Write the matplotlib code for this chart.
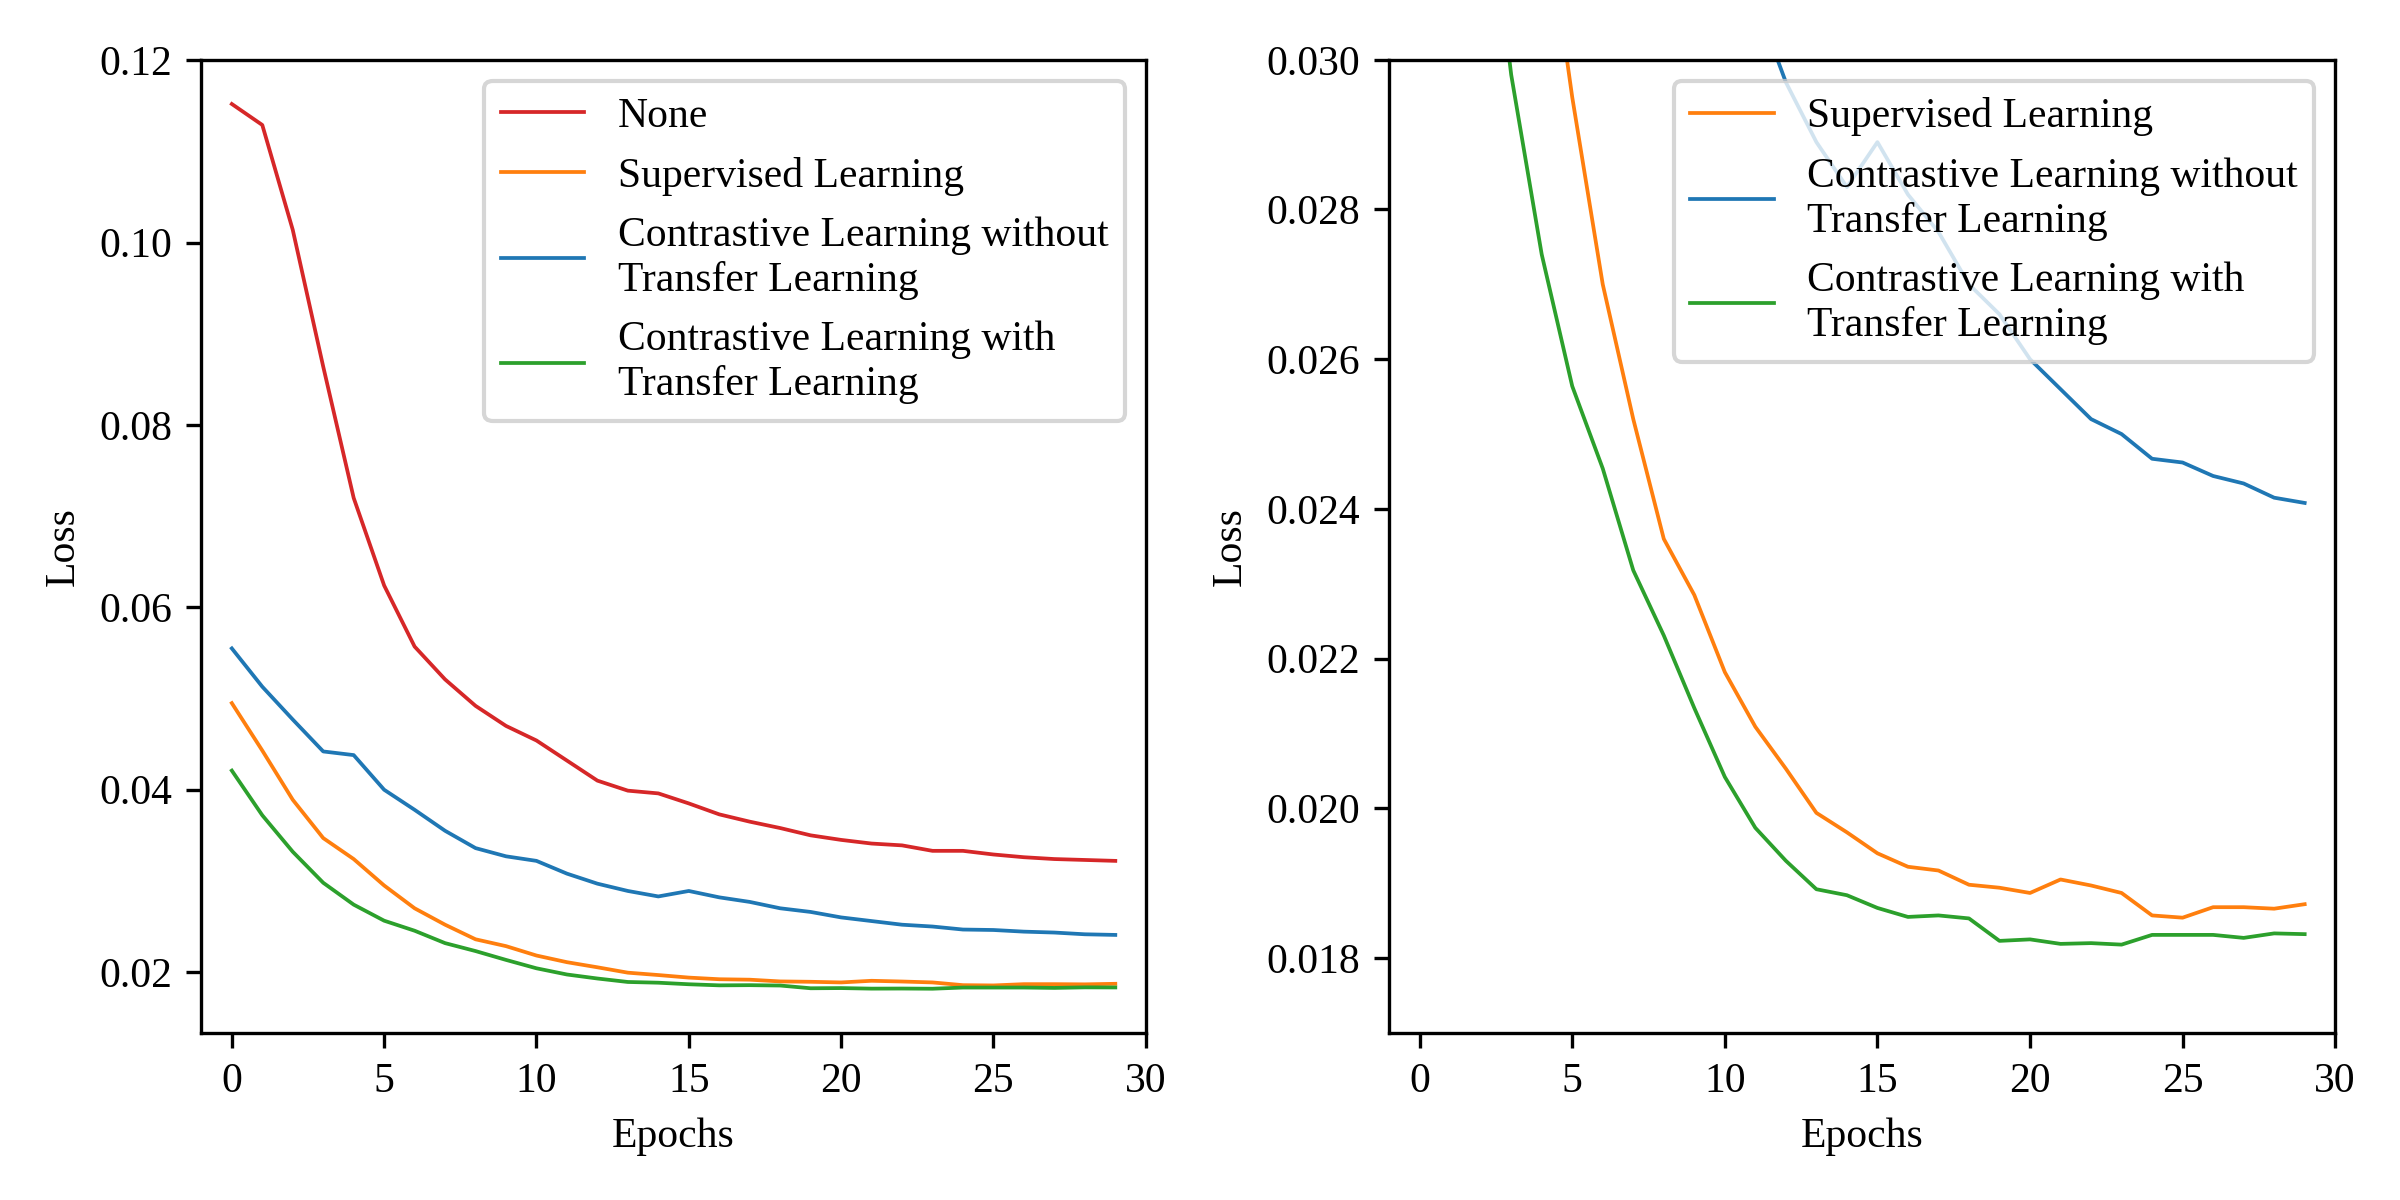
import numpy as np
import matplotlib
matplotlib.use("Agg")
import matplotlib.pyplot as plt

plt.rcParams['font.family'] = 'serif'
plt.rcParams['font.serif'] = ['Times New Roman', 'Liberation Serif', 'DejaVu Serif']
plt.rcParams['font.size'] = 10

epochs = list(range(30))

# loss per epoch
loss_none = [0.1152, 0.1129, 0.1014, 0.0864, 0.0720, 0.0624, 0.0557, 0.0521, 0.0492, 0.0470,
             0.0454, 0.0432, 0.0410, 0.0399, 0.0396, 0.0385, 0.0373, 0.0365, 0.0358, 0.0350,
             0.0345, 0.0341, 0.0339, 0.0333, 0.0333, 0.0329, 0.0326, 0.0324, 0.0323, 0.0322]
loss_supervised = [0.0495, 0.0443, 0.0389, 0.0347, 0.0324, 0.0295, 0.0270, 0.0252, 0.0236, 0.02285,
                   0.02182, 0.02109, 0.02053, 0.01994, 0.01968, 0.0194, 0.01922, 0.01917, 0.01898, 0.01894,
                   0.01887, 0.01905, 0.01897, 0.01887, 0.01857, 0.01854, 0.01868, 0.01868, 0.01866, 0.01872]
loss_cl_no_tl = [0.0555, 0.0513, 0.0477, 0.0442, 0.0438, 0.0400, 0.0378, 0.0355, 0.0336, 0.0327,
                 0.0322, 0.0308, 0.0297, 0.0289, 0.0283, 0.0289, 0.0282, 0.0277, 0.0270, 0.0266,
                 0.0260, 0.0256, 0.0252, 0.0250, 0.02467, 0.02462, 0.02444, 0.02434, 0.02415, 0.02408]
loss_cl_tl = [0.0421, 0.0372, 0.0332, 0.0298, 0.0274, 0.02564, 0.02454, 0.02318, 0.02231, 0.02134,
              0.02042, 0.01974, 0.0193, 0.01892, 0.01884, 0.01867, 0.01855, 0.01857, 0.01853, 0.01823,
              0.01825, 0.01819, 0.0182, 0.01818, 0.01831, 0.01831, 0.01831, 0.01827, 0.01833, 0.01832]

labels = ["None", "Supervised Learning",
          "Contrastive Learning without\nTransfer Learning",
          "Contrastive Learning with\nTransfer Learning"]
colors = ["tab:red", "tab:orange", "tab:blue", "tab:green"]

fig = plt.figure(figsize=(8.0, 4.0), dpi=300)
ax1 = fig.add_axes([0.0839, 0.1392, 0.3935, 0.811])
ax2 = fig.add_axes([0.5788, 0.1392, 0.3942, 0.811])

series = [loss_none, loss_supervised, loss_cl_no_tl, loss_cl_tl]

# left: all four runs
for data, color, label in zip(series, colors, labels):
    ax1.plot(epochs, data, color=color, lw=0.9, label=label)
ax1.set_xlim(-1, 30)
ax1.set_xlabel('Epochs')
ax1.set_ylabel('Loss')
ax1.legend(loc='upper right')

# right: zoomed in, without the baseline
for data, color, label in zip(series[1:], colors[1:], labels[1:]):
    ax2.plot(epochs, data, color=color, lw=0.9, label=label)
ax2.set_xlim(-1, 30)
ax2.set_ylim(0.017, 0.030)
ax2.set_yticks(np.arange(0.018, 0.0301, 0.002))
ax2.set_xlabel('Epochs')
ax2.set_ylabel('Loss')
ax2.legend(loc='upper right')

plt.savefig('out.png', dpi=300)
